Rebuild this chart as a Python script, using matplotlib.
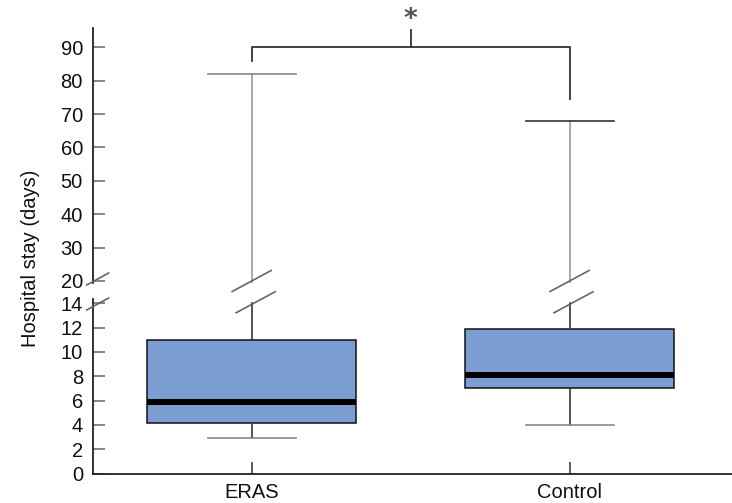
import matplotlib
matplotlib.use("Agg")
import matplotlib.pyplot as plt
from matplotlib.lines import Line2D
from matplotlib.transforms import IdentityTransform

# ---- data ----
groups = ["ERAS", "Control"]
whisker_low = [2.9, 3.95]
quart1 = [4.15, 7.05]
medians = [5.85, 8.1]
quart3 = [10.95, 11.9]
whisker_high = [82, 68]

lower_ticks = [0, 2, 4, 6, 8, 10, 12, 14]
upper_ticks = [20, 30, 40, 50, 60, 70, 80, 90]
ylabel = "Hospital stay (days)"
sig_label = "*"
bracket_top = 90
bracket_left_end = 86
bracket_right_end = 74.5
bracket_mid_top = 95.1

plt.rcParams['font.family'] = ['Liberation Sans', 'DejaVu Sans']

W, H = 732, 503
fig = plt.figure(figsize=(W / 100, H / 100), dpi=100)

ax_left = 92.7 / W
ax_up = fig.add_axes([ax_left, 1 - 283 / H, 1 - ax_left, (283 - 28) / H])
ax_lo = fig.add_axes([ax_left, 1 - 473.5 / H, 1 - ax_left, (473.5 - 299) / H])

positions = [1, 2]
stats = [dict(med=m, q1=a, q3=b, whislo=lo, whishi=hi, label=g)
         for g, lo, a, m, b, hi in zip(groups, whisker_low, quart1, medians,
                                        quart3, whisker_high)]

box_color = "#7b9dd2"
common = dict(positions=positions, widths=0.657, capwidths=0.277,
              showfliers=False, patch_artist=True,
              boxprops=dict(facecolor=box_color, edgecolor="#111", linewidth=1.1),
              medianprops=dict(color="black", linewidth=4.3, solid_capstyle="butt"),
              capprops=dict(color="#888", linewidth=1.2))

low_ylim = (0, 14.35)
up_ylim = (19.4, 95.8)

res_lo = ax_lo.bxp(stats, whiskerprops=dict(color="#333", linewidth=1.2), **common)
res_up = ax_up.bxp(stats, whiskerprops=dict(color="#999", linewidth=1.2), **common)

# cut the lower-panel upper whiskers at 14
for i, w in enumerate(res_lo['whiskers']):
    if i % 2 == 1:
        w.set_ydata([quart3[i // 2], 14])
# control upper cap appears darker
res_up['caps'][3].set_color("#333")

for ax in (ax_lo, ax_up):
    ax.set_xlim(0.5, 2.511)
    for s in ("top", "right"):
        ax.spines[s].set_visible(False)
    ax.spines["left"].set_linewidth(1.3)
    ax.spines["left"].set_color("#222")
    ax.tick_params(axis="y", direction="in", length=8.6, width=1.1,
                   color="#666", labelsize=14.5, pad=7, labelcolor="#111")

ax_lo.set_ylim(*low_ylim)
ax_up.set_ylim(*up_ylim)
ax_lo.set_yticks(lower_ticks)
ax_up.set_yticks(upper_ticks)

ax_up.spines["bottom"].set_visible(False)
ax_up.set_xticks([])
ax_lo.spines["bottom"].set_linewidth(1.3)
ax_lo.spines["bottom"].set_color("#222")
ax_lo.set_xticks(positions)
ax_lo.set_xticklabels(groups)
ax_lo.tick_params(axis="x", direction="in", length=8.6, width=1.1,
                  color="#333", labelsize=14.5, pad=7, labelcolor="#111")

fig.text(31 / W, 1 - 258 / H, ylabel, rotation=90, ha="center", va="center",
         fontsize=14.5, color="#111")

# significance bracket
bk = dict(color="#333", linewidth=1.3, clip_on=False)
ax_up.plot([positions[0], positions[0], positions[1], positions[1]],
           [bracket_left_end, bracket_top, bracket_top, bracket_right_end], **bk)
mid = (positions[0] + positions[1]) / 2
ax_up.plot([mid, mid], [bracket_top, bracket_mid_top], **bk)
ax_up.text(mid, bracket_top + (47.3 - 20) / 3.34, sig_label, ha="center",
           va="center", fontsize=19, color="#555", family="DejaVu Sans",
           fontweight="bold")

# break marks
fig.canvas.draw()


def slash(cx, cy, dx, dy, color):
    fig.add_artist(Line2D([cx - dx, cx + dx], [cy - dy, cy + dy],
                          transform=IdentityTransform(), color=color,
                          linewidth=1.2))


# axis break marks
ax_x, up_bottom = ax_up.transAxes.transform((0, 0))
_, lo_top = ax_lo.transAxes.transform((0, 1))
slash(ax_x + 5, up_bottom + 4, 11, 6, "#666")
slash(ax_x + 5, lo_top - 5, 11, 6, "#666")

# whisker break marks
for p in positions:
    x_up, y_up = ax_up.transData.transform((p, up_ylim[0]))
    x_lo, y_lo = ax_lo.transData.transform((p, 14))
    slash(x_up, y_up + 2, 19.5, 10.5, "#666")
    slash(x_lo + 4, y_lo + 1, 19.5, 10.5, "#666")

fig.savefig("out.png", dpi=100)
